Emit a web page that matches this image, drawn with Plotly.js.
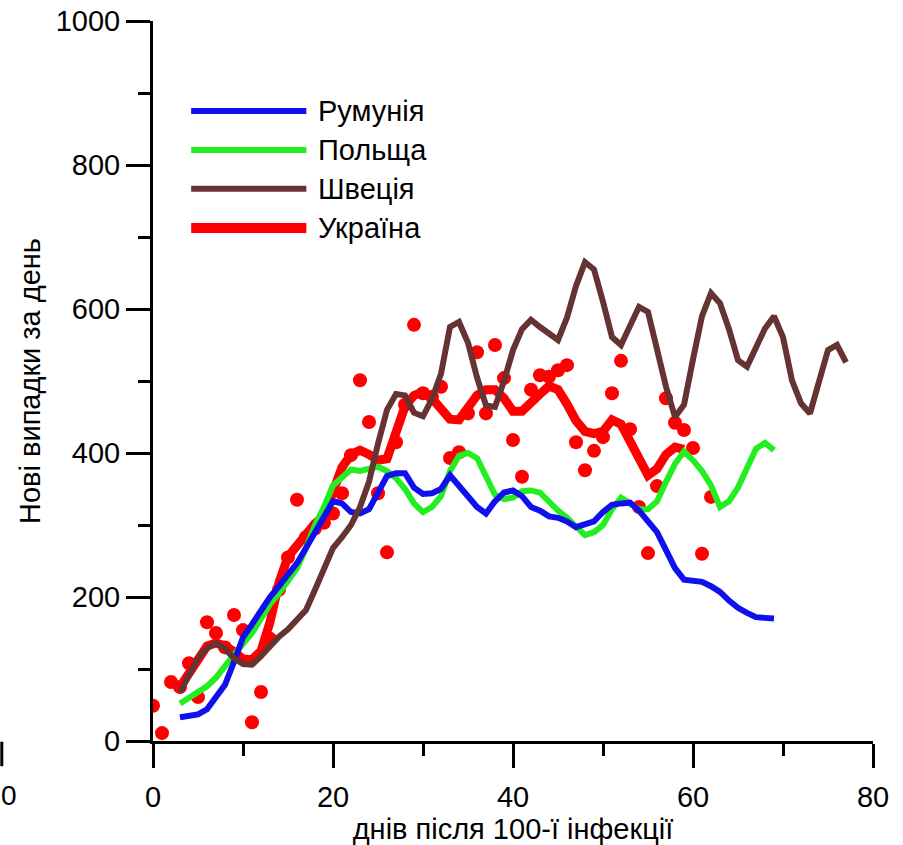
<!DOCTYPE html>
<html>
<head>
<meta charset="utf-8">
<script src="https://cdn.plot.ly/plotly-3.0.1.min.js"></script>
<style>html,body{margin:0;padding:0;background:#fff;}#chart{width:903px;height:845px;}</style>
</head>
<body>
<div id="chart"></div>
<script>
// ---- data ----
const seriesNames = ["Румунія", "Польща", "Швеція", "Україна"];

const romaniaDays = [3,4,5,6,7,8,9,10,11,12,13,14,15,16,17,18,19,20,21,22,23,24,25,26,27,28,29,30,31,32,33,34,35,36,37,38,39,40,41,42,43,44,45,46,47,48,49,50,51,52,53,54,55,56,57,58,59,60,61,62,63,64,65,66,67,68,69];
const romaniaCases = [33,35,37,44,60,78,110,144,162,182,200,215,232,247,268,290,312,333,330,318,316,322,345,368,372,372,352,343,344,350,369,355,338,325,316,333,345,348,340,325,320,312,310,305,297,300,305,318,328,330,331,320,305,290,265,240,224,222,221,215,207,195,185,178,172,171,170];

const polandDays = [3,4,5,6,7,8,9,10,11,12,13,14,15,16,17,18,19,20,21,22,23,24,25,26,27,28,29,30,31,32,33,34,35,36,37,38,39,40,41,42,43,44,45,46,47,48,49,50,51,52,53,54,55,56,57,58,59,60,61,62,63,64,65,66,67,68,69];
const polandCases = [52,60,68,76,88,105,120,135,150,170,190,205,222,240,268,300,325,355,366,377,375,378,381,375,365,350,330,318,325,340,375,396,400,393,368,342,336,338,347,348,345,332,320,310,298,286,290,300,322,338,330,322,322,333,360,385,402,390,375,355,325,333,352,380,406,414,404];

const swedenDays = [3,4,5,6,7,8,9,10,11,12,13,14,15,16,17,18,19,20,21,22,23,24,25,26,27,28,29,30,31,32,33,34,35,36,37,38,39,40,41,42,43,44,45,46,47,48,49,50,51,52,53,54,55,56,57,58,59,60,61,62,63,64,65,66,67,68,69,70,71,72,73,74,75,76,77];
const swedenCases = [68,90,115,129,136,128,115,107,106,118,132,145,155,168,182,210,240,268,283,300,325,360,413,460,482,480,456,451,475,510,575,582,553,505,466,464,500,543,572,585,575,566,557,588,632,665,655,610,561,550,575,603,596,545,492,450,467,530,590,622,608,572,529,520,548,573,590,561,501,469,455,501,543,550,526];

const ukraineDays = [3,4,5,6,7,8,9,10,11,12,13,14,15,16,17,18,19,20,21,22,23,24,25,26,27,28,29,30,31,32,33,34,35,36,37,38,39,40,41,42,43,44,45,46,47,48,49,50,51,52,53,54,55,56,57,58,59];
const ukraineSmooth = [75,95,115,132,136,132,124,114,113,125,165,220,256,272,288,302,312,350,380,398,404,398,390,392,430,465,480,485,476,460,447,446,462,480,488,488,476,458,458,468,482,493,488,468,445,430,427,430,446,440,416,388,369,378,398,408,405];

const ukraineDailyDays = [0,1,2,3,4,5,6,7,8,9,10,11,12,13,14,15,16,17,18,19,20,21,22,23,24,25,26,27,28,29,30,31,32,33,34,35,36,37,38,39,40,41,42,43,44,45,46,47,48,49,50,51,52,53,54,55,56,57,58,59,60,61,62];
const ukraineDaily = [49,11,82,75,108,61,165,150,130,175,154,26,68,142,210,255,335,283,295,303,316,344,397,501,443,344,262,415,467,578,483,478,492,393,401,455,540,455,550,504,418,367,488,508,506,515,522,415,376,403,422,483,528,433,325,261,354,476,442,432,407,260,339];

const xTickVals = [0,20,40,60,80];
const yTickVals = [0,200,400,600,800,1000];
const xTitle = "днів після 100-ї інфекції";
const yTitle = "Нові випадки за день";

// ---- styles ----
const colors = {ro:"#1010ee", pl:"#22ee22", se:"#663333", ua:"#ff0000"};
const FONT = "Liberation Sans, Arial, sans-serif";

const traces = [
  {x: ukraineDailyDays, y: ukraineDaily, mode:"markers", type:"scatter",
   marker:{color:colors.ua, size:14}, showlegend:false},
  {x: ukraineDays, y: ukraineSmooth, mode:"lines", type:"scatter", name: seriesNames[3],
   line:{color:colors.ua, width:9}, showlegend:false},
  {x: polandDays, y: polandCases, mode:"lines", type:"scatter", name: seriesNames[1],
   line:{color:colors.pl, width:6}, showlegend:false},
  {x: romaniaDays, y: romaniaCases, mode:"lines", type:"scatter", name: seriesNames[0],
   line:{color:colors.ro, width:6}, showlegend:false},
  {x: swedenDays, y: swedenCases, mode:"lines", type:"scatter", name: seriesNames[2],
   line:{color:colors.se, width:6}, showlegend:false}
];

// custom legend (paper coords)
const legendRows = [
  {name: seriesNames[0], color: colors.ro, w:6, y:0.875},
  {name: seriesNames[1], color: colors.pl, w:6, y:0.821},
  {name: seriesNames[2], color: colors.se, w:6, y:0.767},
  {name: seriesNames[3], color: colors.ua, w:10, y:0.7125}
];
const shapes = legendRows.map(r => ({
  type:"line", xref:"paper", yref:"paper", x0:0.053, x1:0.213, y0:r.y, y1:r.y,
  line:{color:r.color, width:r.w}
}));
// stray mark at left edge of the picture
shapes.push({type:"line", xref:"paper", yref:"paper", x0:-0.21, x1:-0.21, y0:-0.001, y1:-0.035, line:{color:"#000", width:3}});

const annotations = legendRows.map(r => ({
  xref:"paper", yref:"paper", x:0.227, y:r.y, xanchor:"left", yanchor:"middle",
  text:r.name, showarrow:false, font:{family:FONT, size:29, color:"#000"}
}));
annotations.push({xref:"paper", yref:"paper", x:-0.2, y:-0.075, xanchor:"center", yanchor:"middle",
  text:"0", showarrow:false, font:{family:FONT, size:28, color:"#000"}});

const axisCommon = {
  showline:true, linecolor:"#000", linewidth:3, mirror:false,
  ticks:"outside", ticklen:24, tickwidth:3, tickcolor:"#000",
  showgrid:false, zeroline:false,
  tickfont:{family:FONT, size:29, color:"#000"}
};

const layout = {
  width:903, height:845,
  margin:{l:153, r:30, t:21, b:104},
  paper_bgcolor:"#fff", plot_bgcolor:"#fff",
  showlegend:false,
  font:{family:FONT, color:"#000"},
  xaxis: Object.assign({}, axisCommon, {
    range:[0,80], tickvals:xTickVals, ticktext:xTickVals.map(String),
    ticklabelstandoff:4,
    minor:{dtick:10, tick0:0, ticks:"outside", ticklen:12, tickwidth:3, tickcolor:"#000", showgrid:false},
    title:{text:xTitle, font:{family:FONT, size:29, color:"#000"}, standoff:1}
  }),
  yaxis: Object.assign({}, axisCommon, {
    range:[0,1000], tickvals:yTickVals, ticktext:yTickVals.map(String),
    minor:{dtick:100, tick0:0, ticks:"outside", ticklen:12, tickwidth:3, tickcolor:"#000", showgrid:false},
    title:{text:yTitle, font:{family:FONT, size:29, color:"#000"}, standoff:7}
  }),
  shapes: shapes,
  annotations: annotations
};

Plotly.newPlot("chart", traces, layout, {staticPlot:true, displayModeBar:false});
</script>
</body>
</html>
